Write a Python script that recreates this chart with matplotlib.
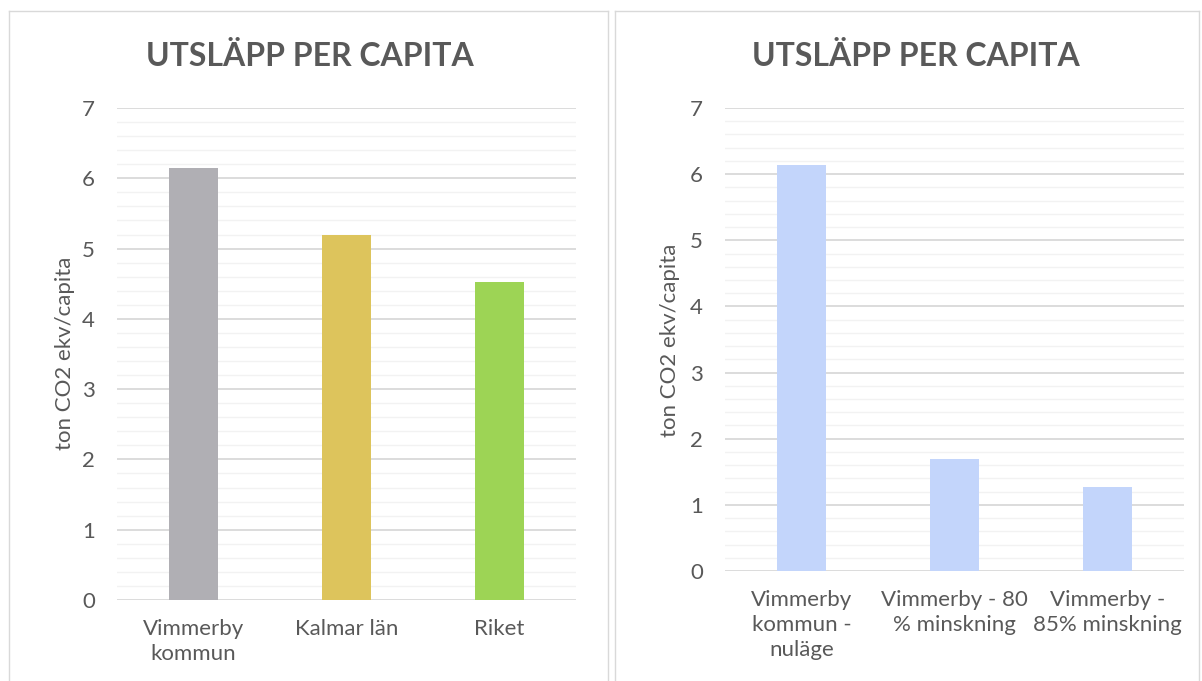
import matplotlib
matplotlib.use("Agg")
import matplotlib.pyplot as plt
from matplotlib.lines import Line2D
from matplotlib.ticker import MultipleLocator

# ---- data ----
title = "UTSLÄPP PER CAPITA"
ylabel = "ton CO2 ekv/capita"
left_categories = ["Vimmerby\nkommun", "Kalmar län", "Riket"]
left_values = [6.15, 5.19, 4.53]
left_colors = ["#B0AFB4", "#DDC45C", "#9DD455"]
right_categories = ["Vimmerby\nkommun -\nnuläge", "Vimmerby - 80\n% minskning", "Vimmerby -\n85% minskning"]
right_values = [6.14, 1.70, 1.27]
right_color = "#C3D5FB"
y_ticks = [0, 1, 2, 3, 4, 5, 6, 7]

W, H = 1202, 681
FONT = "Lato"
TXT = "#595959"
fig = plt.figure(figsize=(W / 100, H / 100), dpi=100)
fig.patch.set_facecolor("white")


def fx(px):
    return px / W


def fy(py):
    return (H - py) / H


# panel borders
for (x0, x1) in [(8.5, 607.5), (614.5, 1198.5)]:
    for xs, ys in [([x0, x1], [10.5, 10.5]), ([x0, x0], [10.5, 690]), ([x1, x1], [10.5, 690])]:
        fig.add_artist(Line2D([fx(v) for v in xs], [fy(v) for v in ys],
                              color="#D9D9D9", lw=1.0, transform=fig.transFigure))


def panel(rect, cats, vals, colors, title_x, ylab_x, ylab_y):
    ax = fig.add_axes(rect)
    x = list(range(len(cats)))
    ax.bar(x, vals, width=0.314, color=colors, zorder=3)
    ax.set_xlim(-0.5, len(cats) - 0.5)
    ax.set_ylim(0, 7)
    ax.set_yticks(y_ticks)
    ax.yaxis.set_minor_locator(MultipleLocator(0.2))
    ax.grid(which="minor", axis="y", color="#F2F2F2", lw=1.0, zorder=1)
    ax.grid(which="major", axis="y", color="#D9D9D9", lw=1.3, zorder=2)
    ax.set_xticks(x)
    ax.set_xticklabels(cats, fontfamily=FONT, fontsize=16, color=TXT,
                       linespacing=1.3, multialignment="center")
    for lab in ax.get_yticklabels():
        lab.set_fontfamily(FONT)
        lab.set_fontsize(16)
        lab.set_color(TXT)
    ax.tick_params(axis="x", length=0, pad=14)
    ax.tick_params(axis="y", which="both", length=0, pad=16)
    for s in ax.spines.values():
        s.set_visible(False)
    fig.text(fx(title_x), fy(66), title, fontfamily=FONT, fontweight="bold",
             fontsize=23, color=TXT, ha="center", va="baseline")
    fig.text(fx(ylab_x), fy(ylab_y), ylabel, fontfamily=FONT, fontsize=16,
             color=TXT, rotation=90, ha="center", va="center")
    return ax


panel([fx(117), fy(600), fx(576) - fx(117), fy(108) - fy(600)],
      left_categories, left_values, left_colors, 310, 65, 353)
panel([fx(725), fy(571), fx(1184) - fx(725), fy(108) - fy(571)],
      right_categories, right_values, [right_color] * 3, 916, 670, 340)

fig.savefig("out.png", dpi=100, facecolor="white")
